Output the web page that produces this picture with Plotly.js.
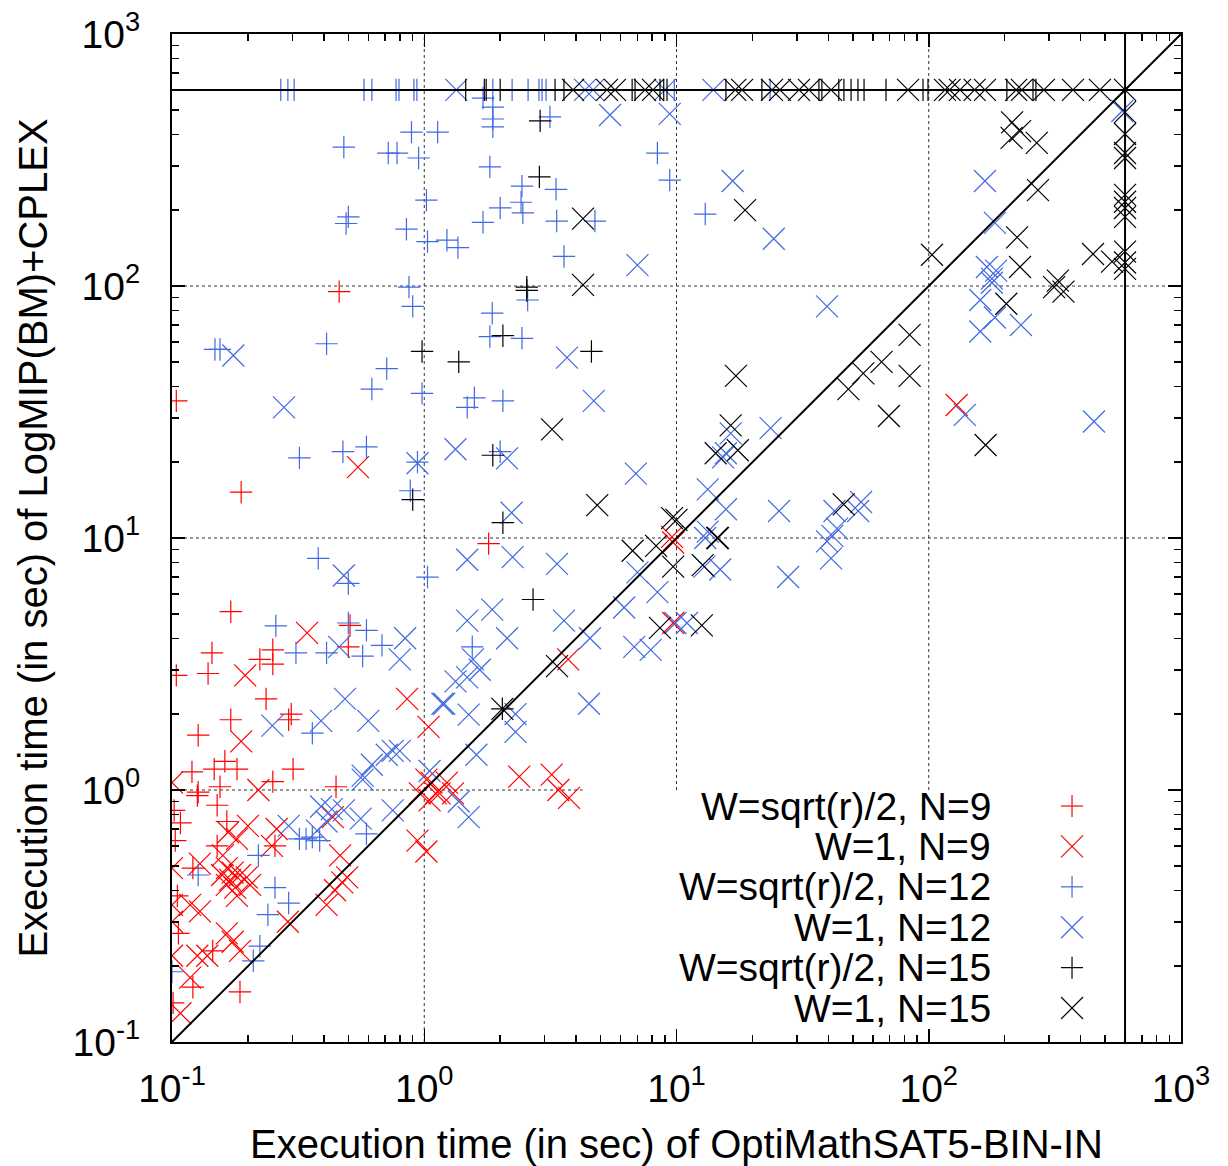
<!DOCTYPE html>
<html>
<head>
<meta charset="utf-8">
<script src="https://cdn.plot.ly/plotly-3.0.1.min.js"></script>
<style>html,body{margin:0;padding:0;background:#fff;}#chart{width:1228px;height:1166px;}</style>
</head>
<body>
<div id="chart"></div>
<script>
// ---- data (seconds) ----
var seriesNames = ["W=sqrt(r)/2, N=9", "W=1, N=9", "W=sqrt(r)/2, N=12", "W=1, N=12", "W=sqrt(r)/2, N=15", "W=1, N=15"];
var TIMEOUT = 600;

// W=sqrt(r)/2, N=9
var r9p_x = [0.104,0.46,0.188,1.8,0.171,0.144,0.139,0.104,0.223,0.251,0.251,0.236,0.171,0.297,0.29,0.127,0.12,0.147,0.162,0.181,0.155,0.127,0.302,0.251,0.447,0.508,0.5,0.126,0.151,0.108,0.165,0.103,0.151,0.121,0.105,0.106,0.145,0.121,0.186,0.101,0.256,0.102];
var r9p_y = [35,95,15.2,9.5,5.1,3.5,2.9,2.85,3.3,3.6,3.16,2.3,1.9,2.0,1.9,1.65,1.18,1.21,1.3,1.21,1.03,0.98,1.21,1.08,1.03,4.5,3.7,0.95,0.87,0.74,0.75,0.63,0.6,0.49,0.38,0.27,0.23,0.165,0.158,0.143,0.6,0.83];

// W=1, N=9
var r9x_x = [0.343,0.195,0.188,0.1,0.22,0.855,1.04,0.546,3.72,2.38,3.2,3.4,3.75,9.7,9.7,129,9.6,
  0.2,0.167,0.181,0.26,0.249,0.159,0.165,0.174,0.186,0.158,0.17,0.165,0.178,0.198,0.204,0.181,0.129,0.1,0.129,0.118,0.165,0.174,0.186,0.126,0.138,0.1,0.118,0.108,
  0.464,0.473,0.443,0.41,0.288,0.434,0.495,0.94,1.02,1.05,1.11,1.07,1.02,1.15,1.23,1.3,0.96,0.1,0.1];
var r9x_y = [4.2,2.85,1.56,1.07,1.0,2.3,1.78,19.1,3.3,1.13,1.15,1.0,0.93,9.6,4.6,33.7,10.1,
  0.72,0.68,0.64,0.70,0.6,0.55,0.49,0.47,0.46,0.46,0.44,0.42,0.41,0.45,0.42,0.38,0.51,0.49,0.33,0.35,0.27,0.25,0.23,0.22,0.22,0.22,0.18,0.13,
  0.55,0.43,0.40,0.35,0.30,0.78,0.45,0.63,0.57,0.91,0.97,1.07,1.1,0.97,1.07,0.97,0.97,0.35,0.3];

// W=sqrt(r)/2, N=12
var b12p_x = [0.89,1.13,0.48,0.72,0.78,0.95,1.82,1.87,1.87,1.87,1.71,3.15,2.44,2.42,2.46,3.33,2.0,1.71,3.35,4.75,3.58,1.02,0.85,1.03,1.23,1.36,0.5,0.49,0.87,8.4,9.4,13,
  0.9,0.155,0.148,0.41,0.71,0.62,0.98,0.32,0.476,0.59,0.88,0.94,1.86,1.82,2.44,1.58,1.48,2.05,2.0,2.57,
  0.38,1.03,0.5,0.258,0.5,0.59,0.68,0.31,0.41,0.57,0.36,1.55,
  0.127,0.22,0.256,0.29,0.24,0.32,0.34,0.36,0.385,0.59,0.223,0.21,0.1,
  0.27,0.288,0.305,0.577,0.62,0.773,0.794,0.91,0.935,1.87,2.23,2.58,2.85,2.93,3.04,9.8,23.5];
var b12p_y = [408,408,356,337,337,322,297,428,460,513,557,469,249,215,195,242,204,179,181,181,131,219,168,150,152,142,188,177,99,337,263,193,
  83,56,56,59,47,39,37.5,20.8,22,23,15.4,20,78,63,62,36,33,35,22,88,
  8.3,7.0,6.6,4.48,4.6,4.3,3.75,3.5,3.5,3.4,1.68,3.7,
  0.46,0.55,0.41,0.356,0.32,0.64,0.64,0.65,0.63,0.67,0.24,0.21,0.19,
  600,600,600,600,600,600,600,600,600,600,600,600,600,600,600,600,600];

// W=1, N=12
var b12x_x = [0.175,0.278,0.94,1.33,2.13,3.68,4.7,2.22,6.9,5.45,9.4,7.0,16.7,24.3,167,183,170,185,178,585,
  39.5,160,160,183,232,178,139,452,16.4,23.6,15.7,15.3,13.3,15.7,25.5,42.3,53.9,52.5,43.3,41.5,13.3,
  1.48,2.24,3.36,1.48,1.86,2.13,3.58,4.54,6.8,7.9,6.2,8.4,7.0,9.9,11,12.9,14.9,27.7,39.5,41,13,1.66,1.56,1.48,1.33,1.2,1.5,2.3,2.3,4.5,1.61,
  0.84,0.8,0.48,0.46,0.485,0.39,0.25,0.6,1.18,0.57,0.62,0.71,0.75,0.8,1.05,
  0.39,0.48,0.43,0.56,0.75,0.29,0.376,0.41,0.57,1.37,1.5,
  1.34,4.34,4.67,9.0,14];
var b12x_y = [53,33,19.8,22.5,20.7,52,35,12.6,18,477,482,121,261,154,261,178,119,115,107,495,
  83,88,66,75,70,103,30.8,29,26,27.3,21.7,20.9,15.6,13,12.8,12.8,13.9,12.8,10.9,10.2,10.6,
  8.2,8.4,7.9,4.7,5.2,4.0,4.7,4.0,3.7,3.6,5.3,6.1,7.3,4.6,4.6,7.7,7.5,7.0,9.7,8.3,10,3.0,3.3,2.8,2.7,2.2,1.99,2.0,1.7,2.2,1.38,
  4.0,3.3,7.1,3.7,2.3,1.88,1.8,1.88,2.2,1.14,1.26,1.38,1.43,1.43,1.19,
  0.86,0.83,0.84,0.77,0.83,0.72,0.69,0.75,1.1,0.9,0.78,
  600,600,600,600,600];

// W=sqrt(r)/2, N=15
var k15p_x = [2.88,2.86,2.55,2.55,2.05,0.98,1.37,4.6,0.9,1.87,2.05,2.7,2.04,
  1.46,1.73,1.76,2.0,3.3,3.58,6.67,6.85,8.6,8.9,9.17,15.7,21.8,36.7,37.7,44,46.1,49.2,52.4,55.4,67.7,94.9,99.3,204,259,266];
var k15p_y = [452,271,99,96,63.5,55,50,55,14.2,21.3,11.5,5.7,2.1,
  600,600,600,600,600,600,600,600,600,600,600,600,600,600,600,600,600,600,600,600,600,600,600,600,600,600];

// W=1, N=15
var k15x_x = [4.26,4.26,18.7,103,214,230,213,268,271,224,230,448,325,533,
  600,600,600,600,600,600,600,600,600,600,600,
  203,314,342,84,65,55,48,84,69.5,168,17.2,16.4,17.5,14.3,10,46,14.6,
  6.7,8.3,9.7,12.7,8.6,12.6,3.36,2.04,14.5,3.21,4.85,9.6,
  3.89,5.3,5.7,7.5,8.07,17.1,18.2,23.9,25.7,30.6,33.5,41,82.8,116,121,133,152,167,222,234,286,373,477,600];
var k15x_y = [185,101,200,133,446,412,387,370,240,156,119,134,105,125,
  490,401,337,322,230,216,204,188,137,124,117,
  85,99,95,64,50,45,39,44,30.5,23.4,44,28,22.3,21.7,11.8,13.6,10,
  8.9,9.3,7.7,7.8,4.4,4.5,3.1,2.1,10,27,13.5,12,
  600,600,600,600,600,600,600,600,600,600,600,600,600,600,600,600,600,600,600,600,600,600,600,600];

var xTickVals = [0.1, 1, 10, 100, 1000];
var xTickText = ["10<sup>-1</sup>", "10<sup>0</sup>", "10<sup>1</sup>", "10<sup>2</sup>", "10<sup>3</sup>"];
var yTickVals = [0.1, 1, 10, 100, 1000];
var yTickText = ["10<sup>-1</sup>", "10<sup>0</sup>", "10<sup>1</sup>", "10<sup>2</sup>", "10<sup>3</sup>"];
var xTitle = "Execution time (in sec) of OptiMathSAT5-BIN-IN";
var yTitle = "Execution time (in sec) of LogMIP(BM)+CPLEX";

// ---- styling ----
var RED = "#ff0000", BLUE = "#4169e1", BLACK = "#000000";
var FONT = "Liberation Sans, Arial, Helvetica, sans-serif";
var seriesX = [r9p_x, r9x_x, b12p_x, b12x_x, k15p_x, k15x_x];
var seriesY = [r9p_y, r9x_y, b12p_y, b12x_y, k15p_y, k15x_y];
var colors = [RED, RED, BLUE, BLUE, BLACK, BLACK];
var isCross = [true, false, true, false, true, false];

var traces = seriesNames.map(function (nm, i) {
  return {
    type: "scatter", mode: "markers", name: nm, showlegend: false,
    x: seriesX[i], y: seriesY[i],
    marker: { symbol: isCross[i] ? "cross-thin-open" : "x-thin-open", size: isCross[i] ? 16 : 22,
              color: colors[i], line: { color: colors[i], width: 1.2 } },
    hoverinfo: "skip"
  };
});

var minorVals = [];
[0.1, 1, 10, 100].forEach(function (d) { for (var k = 2; k <= 9; k++) minorVals.push(+(d * k).toPrecision(3)); });

function axis(tv, tt, title) {
  return {
    type: "log", range: [-1, 3], autorange: false,
    tickmode: "array", tickvals: tv, ticktext: tt,
    ticks: "inside", ticklen: 13, tickwidth: 1.5, tickcolor: "#000",
    showline: true, linewidth: 2, linecolor: "#000", mirror: "allticks",
    showgrid: false, zeroline: false, ticklabeloverflow: "allow",
    minor: { tickmode: "array", tickvals: minorVals, ticks: "inside", ticklen: 7, tickwidth: 1.5, tickcolor: "#000", showgrid: false },
    tickfont: { family: FONT, size: 39, color: "#000" },
    title: { text: title, font: { family: FONT, size: 40, color: "#000" } }
  };
}

var xa = axis(xTickVals, xTickText, xTitle);
xa.ticklabelstandoff = 11;
xa.title.standoff = 27;
var ya = axis(yTickVals, yTickText, yTitle);
ya.ticklabelstandoff = 22;
ya.title.standoff = 13;

// legend (right-aligned labels with the key symbol to their right, as in the reference)
var legendRowTop = 0.2341, legendRowStep = 0.04008, legendTextX = 0.8137, legendKeyX = 0.892;
var annotations = seriesNames.map(function (nm, i) {
  return {
    xref: "paper", yref: "paper", x: legendTextX, y: legendRowTop - i * legendRowStep,
    xanchor: "right", yanchor: "middle", showarrow: false, text: nm,
    font: { family: FONT, size: 39, color: "#000" }
  };
});

var shapes = [];
// dotted grid at decades (hidden behind the legend block as in the reference)
var gridDash = { color: "#333", width: 1, dash: "dot" };
shapes.push({ type: "line", layer: "below", xref: "x", yref: "paper", x0: 1, x1: 1, y0: 0, y1: 1, line: gridDash });
[10, 100].forEach(function (v) {
  shapes.push({ type: "line", layer: "below", xref: "x", yref: "y", x0: v, x1: v, y0: 1, y1: 1000, line: gridDash });
  shapes.push({ type: "line", layer: "below", xref: "paper", yref: "y", x0: 0, x1: 1, y0: v, y1: v, line: gridDash });
});
shapes.push({ type: "line", layer: "below", xref: "paper", yref: "y", x0: 0, x1: 0.407, y0: 1, y1: 1, line: gridDash });
// reference lines: y = x and the 600 s timeout
shapes.push({ type: "line", xref: "x", yref: "y", x0: 0.1, y0: 0.1, x1: 1000, y1: 1000, line: { color: "#000", width: 2 } });
shapes.push({ type: "line", xref: "paper", yref: "y", x0: 0, x1: 1, y0: TIMEOUT, y1: TIMEOUT, line: { color: "#000", width: 2 } });
shapes.push({ type: "line", xref: "x", yref: "paper", x0: TIMEOUT, x1: TIMEOUT, y0: 0, y1: 1, line: { color: "#000", width: 2 } });
// legend keys
seriesNames.forEach(function (nm, i) {
  var yc = legendRowTop - i * legendRowStep;
  var base = { type: "line", xref: "paper", yref: "paper", xsizemode: "pixel", ysizemode: "pixel",
               xanchor: legendKeyX, yanchor: yc, line: { color: colors[i], width: 1.2 } };
  if (isCross[i]) {
    shapes.push(Object.assign({}, base, { x0: -11, x1: 11, y0: 0, y1: 0 }));
    shapes.push(Object.assign({}, base, { x0: 0, x1: 0, y0: -11, y1: 11 }));
  } else {
    shapes.push(Object.assign({}, base, { x0: -11, x1: 11, y0: -11, y1: 11 }));
    shapes.push(Object.assign({}, base, { x0: -11, x1: 11, y0: 11, y1: -11 }));
  }
});

var layout = {
  width: 1228, height: 1166,
  margin: { l: 172, r: 47, t: 34, b: 124, pad: 0 },
  paper_bgcolor: "#fff", plot_bgcolor: "#fff",
  xaxis: xa, yaxis: ya,
  showlegend: false,
  annotations: annotations,
  shapes: shapes
};

Plotly.newPlot("chart", traces, layout, { staticPlot: true, displayModeBar: false });
</script>
</body>
</html>
